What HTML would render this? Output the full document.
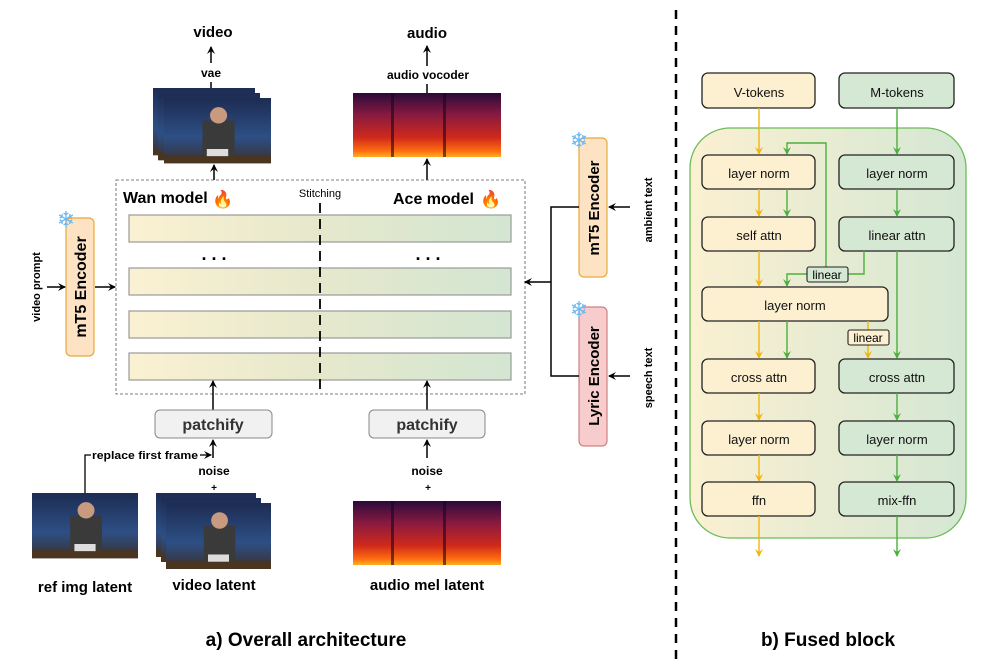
<!DOCTYPE html>
<html><head><meta charset="utf-8"><style>
html,body{margin:0;padding:0;background:#fff;}
svg{display:block;font-family:"Liberation Sans",sans-serif;}
</style></head><body>
<svg width="986" height="668" viewBox="0 0 986 668" xmlns="http://www.w3.org/2000/svg">
<defs>
<linearGradient id="bar" x1="0" x2="1" y1="0" y2="0"><stop offset="0" stop-color="#fbf1d2"/><stop offset="0.5" stop-color="#e6e8cc"/><stop offset="1" stop-color="#d3e6d2"/></linearGradient>
<linearGradient id="cont" x1="0" x2="1" y1="0" y2="0"><stop offset="0" stop-color="#fbf0d2"/><stop offset="1" stop-color="#d4e7d3"/></linearGradient>
<linearGradient id="spec" x1="0" x2="0" y1="0" y2="1"><stop offset="0" stop-color="#2a0a3a"/><stop offset="0.35" stop-color="#8a1a40"/><stop offset="0.7" stop-color="#d02a1a"/><stop offset="0.9" stop-color="#ff6a10"/><stop offset="1" stop-color="#ffb020"/></linearGradient>
<linearGradient id="vid" x1="0" x2="0" y1="0" y2="1"><stop offset="0" stop-color="#1d2c52"/><stop offset="0.6" stop-color="#2d4f85"/><stop offset="1" stop-color="#3a3030"/></linearGradient>
<marker id="ak" markerWidth="8" markerHeight="8" refX="7" refY="4" orient="auto" markerUnits="userSpaceOnUse"><path d="M0,0 L8,4 L0,8 L3,4z" fill="#000"/></marker>
<marker id="ay" markerWidth="8" markerHeight="8" refX="7" refY="4" orient="auto" markerUnits="userSpaceOnUse"><path d="M0,0 L8,4 L0,8 L3,4z" fill="#f2b50f"/></marker>
<marker id="ag" markerWidth="8" markerHeight="8" refX="7" refY="4" orient="auto" markerUnits="userSpaceOnUse"><path d="M0,0 L8,4 L0,8 L3,4z" fill="#4caf3e"/></marker>
<g id="frame"><rect width="100" height="64" fill="url(#vid)"/><rect x="36" y="22" width="30" height="36" fill="#3a3a3a"/><circle cx="51" cy="17" r="8" fill="#c89a80"/><rect x="0" y="56" width="100" height="8" fill="#4a3520"/><rect x="40" y="50" width="20" height="7" fill="#ddd"/></g>
</defs>

<line x1="676" y1="10" x2="676" y2="662" stroke="#000" stroke-width="2.5" stroke-dasharray="9,7"/>

<text x="213" y="37" font-size="15" font-weight="bold" text-anchor="middle">video</text>
<text x="427" y="38" font-size="15" font-weight="bold" text-anchor="middle">audio</text>
<line x1="211" y1="63" x2="211" y2="47" stroke="#000" stroke-width="1.5" marker-end="url(#ak)"/>
<line x1="427" y1="66" x2="427" y2="46" stroke="#000" stroke-width="1.5" marker-end="url(#ak)"/>
<text x="211" y="77" font-size="12" font-weight="bold" text-anchor="middle">vae</text>
<text x="428" y="79" font-size="12" font-weight="bold" text-anchor="middle">audio vocoder</text>
<line x1="211" y1="82" x2="211" y2="88" stroke="#000" stroke-width="1.5"/>
<line x1="427" y1="84" x2="427" y2="93" stroke="#000" stroke-width="1.5"/>
<g transform="translate(153,88) scale(1.02,1.05)"><use href="#frame"/></g>
<g transform="translate(158,93) scale(1.02,1.05)"><use href="#frame"/></g>
<g transform="translate(164,98) scale(1.07,1.02)"><use href="#frame"/></g>
<rect x="353" y="93" width="148" height="64" fill="url(#spec)"/>
<rect x="391" y="93" width="3" height="64" fill="#1a0520" opacity=".6"/>
<rect x="443" y="93" width="3" height="64" fill="#1a0520" opacity=".6"/>
<line x1="214" y1="180" x2="214" y2="165" stroke="#000" stroke-width="1.5" marker-end="url(#ak)"/>
<line x1="427" y1="180" x2="427" y2="159" stroke="#000" stroke-width="1.5" marker-end="url(#ak)"/>

<rect x="116" y="180" width="409" height="214" fill="none" stroke="#555" stroke-width="0.8" stroke-dasharray="3,2"/>
<text x="123" y="203" font-size="16" font-weight="bold">Wan model</text>
<text x="212" y="205" font-size="17">🔥</text>
<text x="320" y="197" font-size="11" text-anchor="middle">Stitching</text>
<text x="393" y="204" font-size="16" font-weight="bold">Ace model</text>
<text x="480" y="205" font-size="17">🔥</text>
<rect x="129" y="215" width="382" height="27" fill="url(#bar)" stroke="#999" stroke-width="1.2"/>
<rect x="129" y="268" width="382" height="27" fill="url(#bar)" stroke="#999" stroke-width="1.2"/>
<rect x="129" y="311" width="382" height="27" fill="url(#bar)" stroke="#999" stroke-width="1.2"/>
<rect x="129" y="353" width="382" height="27" fill="url(#bar)" stroke="#999" stroke-width="1.2"/>
<text x="214" y="260" font-size="18" font-weight="bold" text-anchor="middle">. . .</text>
<text x="428" y="260" font-size="18" font-weight="bold" text-anchor="middle">. . .</text>
<line x1="320" y1="203" x2="320" y2="390" stroke="#000" stroke-width="1.8" stroke-dasharray="10,6"/>

<rect x="66" y="218" width="28" height="138" rx="5" fill="#fde3c4" stroke="#e8a93a" stroke-width="1.2"/>
<text transform="translate(86,287) rotate(-90)" font-size="16" font-weight="bold" text-anchor="middle">mT5 Encoder</text>
<text x="66" y="227" font-size="22" text-anchor="middle" fill="#6ab8f0">❄</text>
<text transform="translate(40,287) rotate(-90)" font-size="11" font-weight="bold" text-anchor="middle">video prompt</text>
<line x1="47" y1="287" x2="65" y2="287" stroke="#000" stroke-width="1.5" marker-end="url(#ak)"/>
<line x1="95" y1="287" x2="115" y2="287" stroke="#000" stroke-width="1.5" marker-end="url(#ak)"/>

<rect x="579" y="138" width="28" height="139" rx="5" fill="#fde3c4" stroke="#e8a93a" stroke-width="1.2"/>
<text transform="translate(599,208) rotate(-90)" font-size="15" font-weight="bold" text-anchor="middle">mT5 Encoder</text>
<rect x="579" y="307" width="28" height="139" rx="5" fill="#f7cccc" stroke="#d08080" stroke-width="1.2"/>
<text transform="translate(599,376) rotate(-90)" font-size="15" font-weight="bold" text-anchor="middle">Lyric Encoder</text>
<text x="579" y="148" font-size="22" text-anchor="middle" fill="#6ab8f0">❄</text>
<text x="579" y="317" font-size="22" text-anchor="middle" fill="#6ab8f0">❄</text>
<polyline points="579,207 551,207 551,376 579,376" fill="none" stroke="#000" stroke-width="1.5"/>
<line x1="551" y1="282" x2="525" y2="282" stroke="#000" stroke-width="1.5" marker-end="url(#ak)"/>
<line x1="630" y1="207" x2="609" y2="207" stroke="#000" stroke-width="1.5" marker-end="url(#ak)"/>
<line x1="630" y1="376" x2="609" y2="376" stroke="#000" stroke-width="1.5" marker-end="url(#ak)"/>
<text transform="translate(652,210) rotate(-90)" font-size="11" font-weight="bold" text-anchor="middle">ambient text</text>
<text transform="translate(652,378) rotate(-90)" font-size="11" font-weight="bold" text-anchor="middle">speech text</text>

<line x1="213" y1="410" x2="213" y2="395" stroke="#000" stroke-width="1.5"/>
<line x1="427" y1="410" x2="427" y2="395" stroke="#000" stroke-width="1.5"/>
<line x1="213" y1="395" x2="213" y2="381" stroke="#000" stroke-width="1.5" marker-end="url(#ak)"/>
<line x1="427" y1="395" x2="427" y2="381" stroke="#000" stroke-width="1.5" marker-end="url(#ak)"/>
<rect x="155" y="410" width="117" height="28" rx="5" fill="#f1f1f1" stroke="#888" stroke-width="1"/>
<rect x="369" y="410" width="116" height="28" rx="5" fill="#f1f1f1" stroke="#888" stroke-width="1"/>
<text x="213" y="430" font-size="16" font-weight="bold" text-anchor="middle" fill="#333">patchify</text>
<text x="427" y="430" font-size="16" font-weight="bold" text-anchor="middle" fill="#333">patchify</text>
<line x1="213" y1="458" x2="213" y2="440" stroke="#000" stroke-width="1.5" marker-end="url(#ak)"/>
<line x1="427" y1="458" x2="427" y2="440" stroke="#000" stroke-width="1.5" marker-end="url(#ak)"/>
<polyline points="85,493 85,455 91,455" fill="none" stroke="#000" stroke-width="1.3"/>
<text x="92" y="459" font-size="11" font-weight="bold" textLength="106" lengthAdjust="spacingAndGlyphs">replace first frame</text>
<line x1="200" y1="455" x2="211" y2="455" stroke="#000" stroke-width="1.3" marker-end="url(#ak)"/>
<text x="214" y="475" font-size="12" font-weight="bold" text-anchor="middle">noise</text>
<text x="427" y="475" font-size="12" font-weight="bold" text-anchor="middle">noise</text>
<text x="214" y="491" font-size="10" font-weight="bold" text-anchor="middle">+</text>
<text x="428" y="491" font-size="10" font-weight="bold" text-anchor="middle">+</text>

<g transform="translate(32,493) scale(1.06,1.02)"><use href="#frame"/></g>
<g transform="translate(156,493)"><use href="#frame"/></g>
<g transform="translate(161,498)"><use href="#frame"/></g>
<g transform="translate(166,503) scale(1.05,1.03)"><use href="#frame"/></g>
<rect x="353" y="501" width="148" height="64" fill="url(#spec)"/>
<rect x="391" y="501" width="3" height="64" fill="#1a0520" opacity=".6"/>
<rect x="443" y="501" width="3" height="64" fill="#1a0520" opacity=".6"/>
<text x="85" y="592" font-size="15" font-weight="bold" text-anchor="middle">ref img latent</text>
<text x="214" y="590" font-size="15" font-weight="bold" text-anchor="middle">video latent</text>
<text x="427" y="590" font-size="15" font-weight="bold" text-anchor="middle">audio mel latent</text>
<text x="306" y="646" font-size="19" font-weight="bold" text-anchor="middle">a) Overall architecture</text>

<rect x="690" y="128" width="276" height="410" rx="40" fill="url(#cont)" stroke="#6cbc58" stroke-width="1.3"/>
<g stroke="#222" stroke-width="1.3">
<rect x="702" y="73" width="113" height="35" rx="6" fill="#fdf0d0"/>
<rect x="839" y="73" width="115" height="35" rx="6" fill="#d5e8d4"/>
<rect x="702" y="155" width="113" height="34" rx="6" fill="#fdf0d0"/>
<rect x="839" y="155" width="115" height="34" rx="6" fill="#d5e8d4"/>
<rect x="702" y="217" width="113" height="34" rx="6" fill="#fdf0d0"/>
<rect x="839" y="217" width="115" height="34" rx="6" fill="#d5e8d4"/>
<rect x="702" y="287" width="186" height="34" rx="6" fill="#fdf0d0"/>
<rect x="702" y="359" width="113" height="34" rx="6" fill="#fdf0d0"/>
<rect x="839" y="359" width="115" height="34" rx="6" fill="#d5e8d4"/>
<rect x="702" y="421" width="113" height="34" rx="6" fill="#fdf0d0"/>
<rect x="839" y="421" width="115" height="34" rx="6" fill="#d5e8d4"/>
<rect x="702" y="482" width="113" height="34" rx="6" fill="#fdf0d0"/>
<rect x="839" y="482" width="115" height="34" rx="6" fill="#d5e8d4"/>
</g>
<g font-size="13" text-anchor="middle" fill="#111">
<text x="759" y="97">V-tokens</text><text x="897" y="97">M-tokens</text>
<text x="759" y="178">layer norm</text><text x="897" y="178">layer norm</text>
<text x="759" y="240">self attn</text><text x="897" y="240">linear attn</text>
<text x="795" y="310">layer norm</text>
<text x="759" y="382">cross attn</text><text x="897" y="382">cross attn</text>
<text x="759" y="444">layer norm</text><text x="897" y="444">layer norm</text>
<text x="759" y="505">ffn</text><text x="897" y="505">mix-ffn</text>
</g>
<g stroke="#f2b50f" stroke-width="1.4" fill="none">
<line x1="759" y1="108" x2="759" y2="154" marker-end="url(#ay)"/>
<line x1="759" y1="189" x2="759" y2="216" marker-end="url(#ay)"/>
<line x1="759" y1="251" x2="759" y2="286" marker-end="url(#ay)"/>
<line x1="759" y1="321" x2="759" y2="358" marker-end="url(#ay)"/>
<line x1="759" y1="393" x2="759" y2="420" marker-end="url(#ay)"/>
<line x1="759" y1="455" x2="759" y2="481" marker-end="url(#ay)"/>
<line x1="759" y1="516" x2="759" y2="556" marker-end="url(#ay)"/>
<line x1="868" y1="321" x2="868" y2="358" marker-end="url(#ay)"/>
</g>
<g stroke="#4caf3e" stroke-width="1.4" fill="none">
<line x1="897" y1="108" x2="897" y2="154" marker-end="url(#ag)"/>
<line x1="897" y1="189" x2="897" y2="216" marker-end="url(#ag)"/>
<line x1="897" y1="251" x2="897" y2="358" marker-end="url(#ag)"/>
<line x1="897" y1="393" x2="897" y2="420" marker-end="url(#ag)"/>
<line x1="897" y1="455" x2="897" y2="481" marker-end="url(#ag)"/>
<line x1="897" y1="516" x2="897" y2="556" marker-end="url(#ag)"/>
<line x1="787" y1="189" x2="787" y2="216" marker-end="url(#ag)"/>
<line x1="787" y1="321" x2="787" y2="358" marker-end="url(#ag)"/>
<polyline points="826,267 826,143 787,143 787,154" marker-end="url(#ag)"/>
<polyline points="864,251 864,274 848,274"/>
<polyline points="807,274 787,274 787,286" marker-end="url(#ag)"/>
</g>
<rect x="807" y="267" width="41" height="15" rx="2" fill="#d5e8d4" stroke="#222" stroke-width="1.1"/>
<text x="827" y="279" font-size="12" text-anchor="middle">linear</text>
<rect x="848" y="330" width="41" height="15" rx="2" fill="#fdf0d0" stroke="#222" stroke-width="1.1"/>
<text x="868" y="342" font-size="12" text-anchor="middle">linear</text>
<text x="828" y="646" font-size="19" font-weight="bold" text-anchor="middle">b) Fused block</text>
</svg>
</body></html>
